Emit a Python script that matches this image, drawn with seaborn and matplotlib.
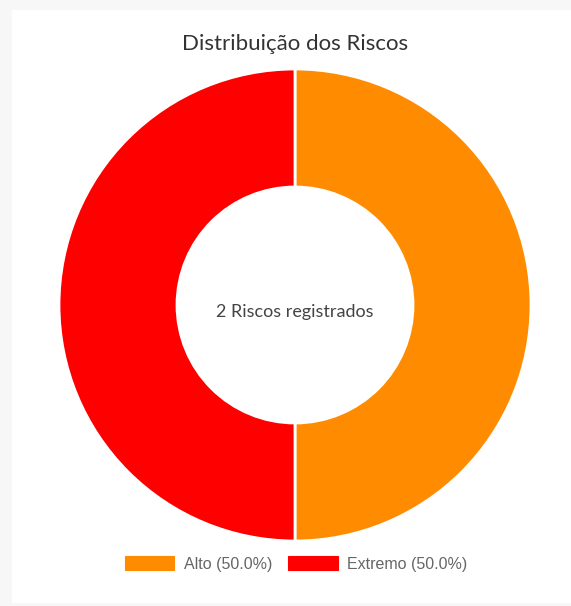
import matplotlib
matplotlib.use("Agg")
import matplotlib.pyplot as plt
import seaborn as sns
from matplotlib.patches import Patch, Rectangle

categories = ["Alto", "Extremo"]
values = [1, 1]
colors = ["#FF8C00", "#FF0000"]
title = "Distribuição dos Riscos"
center_label = "2 Riscos registrados"

sns.set_theme(style="white")
plt.rcParams["font.family"] = ["Lato", "DejaVu Sans"]

W, H = 571, 606
fig = plt.figure(figsize=(W / 100, H / 100), dpi=100)
fig.patch.set_facecolor("#f7f7f7")

# card
fig.add_artist(Rectangle((12 / W, 1 - 603 / H), 1 - 12 / W, (603 - 10) / H,
                         transform=fig.transFigure, facecolor="white",
                         edgecolor="none", zorder=0))

cx, cy, r = 295, 305, 236
ax = fig.add_axes([(cx - r) / W, 1 - (cy + r) / H, 2 * r / W, 2 * r / H])

total = sum(values)
ax.pie(values, colors=colors, startangle=90, counterclock=False, radius=1,
       wedgeprops=dict(width=0.5, edgecolor="white", linewidth=2))
ax.set_xlim(-1, 1)
ax.set_ylim(-1, 1)
ax.set_aspect("equal")
ax.axis("off")

fig.text(cx / W, 1 - 312 / H, center_label, ha="center", va="center",
         fontsize=13, color="#444444")

fig.text(cx / W, 1 - 44 / H, title, ha="center", va="center", fontsize=16,
         color="#333333")

handles = [Patch(facecolor=c, edgecolor=c, linewidth=0.8,
                 label=f"{cat} ({v / total * 100:.1f}%)")
           for cat, v, c in zip(categories, values, colors)]
leg = fig.legend(handles=handles, loc="center", bbox_to_anchor=(296 / W, 1 - 564 / H),
                 ncol=2, frameon=False, handlelength=3.1, handleheight=0.9,
                 handletextpad=0.6, columnspacing=1.0,
                 prop={"family": "Liberation Sans", "size": 11.5})
for t in leg.get_texts():
    t.set_color("#666666")

fig.savefig("out.png", dpi=100, facecolor=fig.get_facecolor())
